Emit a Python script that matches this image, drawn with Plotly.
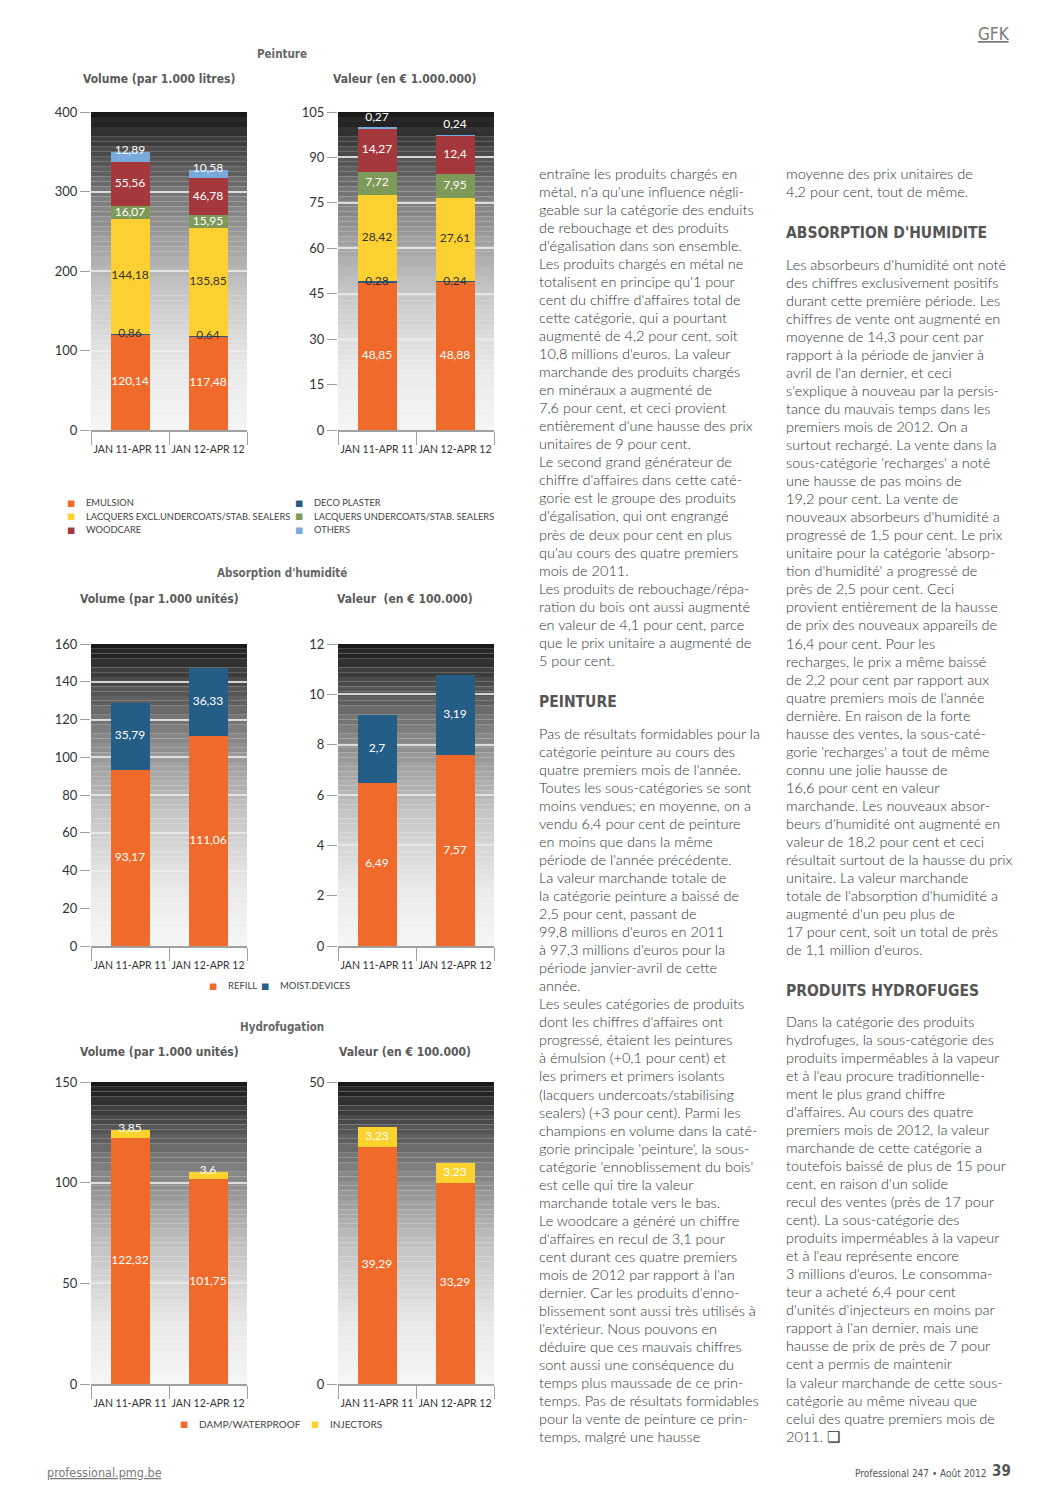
import plotly.graph_objects as go

W, H = 1058, 1496

# ---------------- DATA ----------------
periods = ["JAN 11-APR 11", "JAN 12-APR 12"]

paint_series = ["EMULSION", "DECO PLASTER", "LACQUERS EXCL.UNDERCOATS/STAB. SEALERS",
                "LACQUERS UNDERCOATS/STAB. SEALERS", "WOODCARE", "OTHERS"]
paint_volume = [[120.14, 117.48], [0.86, 0.64], [144.18, 135.85],
                [16.07, 15.95], [55.56, 46.78], [12.89, 10.58]]
paint_value = [[48.85, 48.88], [0.28, 0.24], [28.42, 27.61],
               [7.72, 7.95], [14.27, 12.4], [0.27, 0.24]]

absorption_series = ["REFILL", "MOIST.DEVICES"]
absorption_volume = [[93.17, 111.06], [35.79, 36.33]]
absorption_value = [[6.49, 7.57], [2.7, 3.19]]

hydro_series = ["DAMP/WATERPROOF", "INJECTORS"]
hydro_volume = [[122.32, 101.75], [3.85, 3.6]]
hydro_value = [[39.29, 33.29], [3.23, 3.23]]

# ---------------- STYLE ----------------
ORANGE = "#ef6a2b"
paint_colors = [ORANGE, "#2b5a84", "#fcd031", "#7d9a58", "#a5383d", "#7aaadc"]
paint_label_colors = ["#ffffff", "#333333", "#333333", "#ffffff", "#ffffff", "#ffffff"]
absorption_colors = [ORANGE, "#245d86"]
absorption_label_colors = ["#ffffff", "#ffffff"]
hydro_colors = [ORANGE, "#fcd22e"]
hydro_label_colors = ["#ffffff", "#ffffff"]

NUM_FONT = "Lato, 'Open Sans', sans-serif"
COND_FONT = "'Liberation Sans Narrow', 'DejaVu Sans Condensed', Roboto, sans-serif"

# the page shows the figure with an 8px body margin; compensate
OFF = 8

def px(x, y):
    return (x - OFF) / W, 1 - (y - OFF) / H

charts = [
    # (values, colors, label colors, ymax, dtick, x0, x1, ytop, ybottom)
    (paint_volume, paint_colors, paint_label_colors, 400, 100, 91, 247, 112, 430),
    (paint_value, paint_colors, paint_label_colors, 105, 15, 338, 494, 112, 430),
    (absorption_volume, absorption_colors, absorption_label_colors, 160, 20, 91, 247, 644, 946),
    (absorption_value, absorption_colors, absorption_label_colors, 12, 2, 338, 494, 644, 946),
    (hydro_volume, hydro_colors, hydro_label_colors, 150, 50, 91, 247, 1082, 1384),
    (hydro_value, hydro_colors, hydro_label_colors, 50, 50, 338, 494, 1082, 1384),
]

fig = go.Figure()
shapes = []

def gray(t):
    stops = [(0.0, 246), (0.2, 233), (0.45, 196), (0.6, 160), (0.75, 118),
             (0.88, 74), (0.96, 40), (1.0, 28)]
    for (t0, g0), (t1, g1) in zip(stops[:-1], stops[1:]):
        if t0 <= t <= t1:
            return g0 + (g1 - g0) * (t - t0) / (t1 - t0)
    return stops[-1][1]

def fmt(v):
    return f"{v:g}".replace(".", ",")

for k, (vals, cols, lcols, ymax, dtick, x0, x1, yt, yb) in enumerate(charts):
    idx = "" if k == 0 else str(k + 1)
    xa, ya = "x" + idx, "y" + idx
    plot_px = yb - yt
    for s, v in enumerate(vals):
        fig.add_trace(go.Bar(x=periods, y=v, marker=dict(color=cols[s], line=dict(width=0)),
                             xaxis=xa, yaxis=ya, showlegend=False, hoverinfo="skip"))
    lx, ly, lt, lc = [], [], [], []
    for i in range(len(periods)):
        base = 0.0
        for s, v in enumerate(vals):
            val = v[i]
            top = base + val
            seg = val / ymax * plot_px
            last = s == len(vals) - 1
            if seg >= 14:
                y = base + val / 2
                c = lcols[s]
            elif last and seg < 3:
                y = top + 10 / plot_px * ymax
                c = "#ffffff"
            elif last:
                y = top + 1 / plot_px * ymax
                c = lcols[s]
            else:
                y = base + val / 2
                c = lcols[s]
            lx.append(periods[i]); ly.append(y); lt.append(fmt(val)); lc.append(c)
            base = top
    fig.add_trace(go.Scatter(x=lx, y=ly, text=lt, mode="text",
                             textfont=dict(family=NUM_FONT, size=12, color=lc),
                             xaxis=xa, yaxis=ya, showlegend=False, hoverinfo="skip",
                             cliponaxis=False))
    dx0, _ = px(x0, 0)
    dx1, _ = px(x1, 0)
    _, dy1 = px(0, yt)
    _, dy0 = px(0, yb)
    fig.update_layout(**{
        ("xaxis" + idx): dict(domain=[dx0, dx1], anchor=ya, type="category",
                              automargin=False, tickangle=0, ticklabelstandoff=9,
                              showline=True, linecolor="#a0a0a0", linewidth=1.5,
                              ticks="outside", tickson="boundaries", ticklen=13,
                              tickcolor="#a0a0a0", tickwidth=1.2,
                              tickfont=dict(family=NUM_FONT, size=10.5, color="#333333"),
                              showgrid=False, fixedrange=True),
        ("yaxis" + idx): dict(domain=[dy0, dy1], anchor=xa, range=[0, ymax], dtick=dtick,
                              automargin=False,
                              tick0=0, ticks="outside", ticklen=10, tickcolor="#a0a0a0",
                              tickwidth=1.2, showline=False, zeroline=False,
                              showgrid=True, gridcolor="rgba(235,235,235,0.85)", gridwidth=1.5,
                              tickfont=dict(family=NUM_FONT, size=13, color="#333333"),
                              fixedrange=True),
    })
    n = 64
    for j in range(n):
        t = (j + 0.5) / n
        g = gray(t)
        if t > 0.35:
            g += (5 if j % 2 == 0 else -5) * (t - 0.35) / 0.65
        g = int(max(0, min(255, g)))
        shapes.append(dict(type="rect", xref=xa + " domain", yref=ya + " domain",
                           x0=0, x1=1, y0=j / n, y1=(j + 1) / n, layer="below",
                           line=dict(width=0), fillcolor=f"rgb({g},{g},{g})"))

fig.update_layout(barmode="stack", bargap=0.5, shapes=shapes)

annotations = []

def ann(x, y, text, size, color, family, xanchor="center", weight=None, yanchor="middle"):
    ax, ay = px(x, y)
    f = dict(family=family, size=size, color=color)
    if weight:
        f["weight"] = weight
    annotations.append(dict(x=ax, y=ay, xref="paper", yref="paper", text=text,
                            showarrow=False, xanchor=xanchor, yanchor=yanchor, font=f))

# chart titles
TITLE_C = "#5a5a5a"
ann(282, 54, "<b>Peinture</b>", 11.5, "#666666", COND_FONT)
ann(159, 79, "<b>Volume (par 1.000 litres)</b>", 12, TITLE_C, COND_FONT)
ann(405, 79, "<b>Valeur (en € 1.000.000)</b>", 12, TITLE_C, COND_FONT)
ann(282, 573, "<b>Absorption d'humidité</b>", 11.5, "#666666", COND_FONT)
ann(159, 599, "<b>Volume (par 1.000 unités)</b>", 12, TITLE_C, COND_FONT)
ann(405, 599, "<b>Valeur  (en € 100.000)</b>", 12, TITLE_C, COND_FONT)
ann(282, 1027, "<b>Hydrofugation</b>", 11.5, "#666666", COND_FONT)
ann(159, 1052, "<b>Volume (par 1.000 unités)</b>", 12, TITLE_C, COND_FONT)
ann(405, 1052, "<b>Valeur (en € 100.000)</b>", 12, TITLE_C, COND_FONT)

# legends
LEG_C = "#444444"
col_order = [0, 2, 4, 1, 3, 5]
for pos, s in zip([(71, 503), (71, 516), (71, 530), (299, 503), (299, 516), (299, 530)], col_order):
    ann(pos[0], pos[1], "■", 8.5, paint_colors[s], "DejaVu Sans")
    ann(pos[0] + 13, pos[1], paint_series[s], 9.3, LEG_C, NUM_FONT, xanchor="left")

for (sx, tx), s in zip([(213, 226), (265, 278)], range(2)):
    ann(sx, 986, "■", 8.5, absorption_colors[s], "DejaVu Sans")
    ann(tx, 986, absorption_series[s], 9.5, LEG_C, NUM_FONT, xanchor="left")
for (sx, tx), s in zip([(184, 197), (315, 328)], range(2)):
    ann(sx, 1424, "■", 8.5, hydro_colors[s], "DejaVu Sans")
    ann(tx, 1424, hydro_series[s], 10, LEG_C, NUM_FONT, xanchor="left")

# header / footer
ann(994, 34, "<u>GFK</u>", 17, "#7a7a7a", COND_FONT)
ann(45, 1472, "<u>professional.pmg.be</u>", 12.5, "#7a7a7a", COND_FONT, xanchor="left")
ann(989, 1473, "Professional 247 • Août 2012", 10, "#555555", COND_FONT, xanchor="right")
ann(1013, 1471, "<b>39</b>", 15, "#555555", COND_FONT, xanchor="right")

# article text
left_block1 = [
    "entraîne les produits chargés en",
    "métal, n'a qu'une influence négli-",
    "geable sur la catégorie des enduits",
    "de rebouchage et des produits",
    "d'égalisation dans son ensemble.",
    "Les produits chargés en métal ne",
    "totalisent en principe qu'1 pour",
    "cent du chiffre d'affaires total de",
    "cette catégorie, qui a pourtant",
    "augmenté de 4,2 pour cent, soit",
    "10,8 millions d'euros. La valeur",
    "marchande des produits chargés",
    "en minéraux a augmenté de",
    "7,6 pour cent, et ceci provient",
    "entièrement d'une hausse des prix",
    "unitaires de 9 pour cent.",
    "Le second grand générateur de",
    "chiffre d'affaires dans cette caté-",
    "gorie est le groupe des produits",
    "d'égalisation, qui ont engrangé",
    "près de deux pour cent en plus",
    "qu'au cours des quatre premiers",
    "mois de 2011.",
    "Les produits de rebouchage/répa-",
    "ration du bois ont aussi augmenté",
    "en valeur de 4,1 pour cent, parce",
    "que le prix unitaire a augmenté de",
    "5 pour cent.",
]
left_block2 = [
    "Pas de résultats formidables pour la",
    "catégorie peinture au cours des",
    "quatre premiers mois de l'année.",
    "Toutes les sous-catégories se sont",
    "moins vendues; en moyenne, on a",
    "vendu 6,4 pour cent de peinture",
    "en moins que dans la même",
    "période de l'année précédente.",
    "La valeur marchande totale de",
    "la catégorie peinture a baissé de",
    "2,5 pour cent, passant de",
    "99,8 millions d'euros en 2011",
    "à 97,3 millions d'euros pour la",
    "période janvier-avril de cette",
    "année.",
    "Les seules catégories de produits",
    "dont les chiffres d'affaires ont",
    "progressé, étaient les peintures",
    "à émulsion (+0,1 pour cent) et",
    "les primers et primers isolants",
    "(lacquers undercoats/stabilising",
    "sealers) (+3 pour cent). Parmi les",
    "champions en volume dans la caté-",
    "gorie principale 'peinture', la sous-",
    "catégorie 'ennoblissement du bois'",
    "est celle qui tire la valeur",
    "marchande totale vers le bas.",
    "Le woodcare a généré un chiffre",
    "d'affaires en recul de 3,1 pour",
    "cent durant ces quatre premiers",
    "mois de 2012 par rapport à l'an",
    "dernier. Car les produits d'enno-",
    "blissement sont aussi très utilisés à",
    "l'extérieur. Nous pouvons en",
    "déduire que ces mauvais chiffres",
    "sont aussi une conséquence du",
    "temps plus maussade de ce prin-",
    "temps. Pas de résultats formidables",
    "pour la vente de peinture ce prin-",
    "temps, malgré une hausse",
]
right_block1 = [
    "moyenne des prix unitaires de",
    "4,2 pour cent, tout de même.",
]
right_block2 = [
    "Les absorbeurs d'humidité ont noté",
    "des chiffres exclusivement positifs",
    "durant cette première période. Les",
    "chiffres de vente ont augmenté en",
    "moyenne de 14,3 pour cent par",
    "rapport à la période de janvier à",
    "avril de l'an dernier, et ceci",
    "s'explique à nouveau par la persis-",
    "tance du mauvais temps dans les",
    "premiers mois de 2012. On a",
    "surtout rechargé. La vente dans la",
    "sous-catégorie 'recharges' a noté",
    "une hausse de pas moins de",
    "19,2 pour cent. La vente de",
    "nouveaux absorbeurs d'humidité a",
    "progressé de 1,5 pour cent. Le prix",
    "unitaire pour la catégorie 'absorp-",
    "tion d'humidité' a progressé de",
    "près de 2,5 pour cent. Ceci",
    "provient entièrement de la hausse",
    "de prix des nouveaux appareils de",
    "16,4 pour cent. Pour les",
    "recharges, le prix a même baissé",
    "de 2,2 pour cent par rapport aux",
    "quatre premiers mois de l'année",
    "dernière. En raison de la forte",
    "hausse des ventes, la sous-caté-",
    "gorie 'recharges' a tout de même",
    "connu une jolie hausse de",
    "16,6 pour cent en valeur",
    "marchande. Les nouveaux absor-",
    "beurs d'humidité ont augmenté en",
    "valeur de 18,2 pour cent et ceci",
    "résultait surtout de la hausse du prix",
    "unitaire. La valeur marchande",
    "totale de l'absorption d'humidité a",
    "augmenté d'un peu plus de",
    "17 pour cent, soit un total de près",
    "de 1,1 million d'euros.",
]
right_block3 = [
    "Dans la catégorie des produits",
    "hydrofuges, la sous-catégorie des",
    "produits imperméables à la vapeur",
    "et à l'eau procure traditionnelle-",
    "ment le plus grand chiffre",
    "d'affaires. Au cours des quatre",
    "premiers mois de 2012, la valeur",
    "marchande de cette catégorie a",
    "toutefois baissé de plus de 15 pour",
    "cent, en raison d'un solide",
    "recul des ventes (près de 17 pour",
    "cent). La sous-catégorie des",
    "produits imperméables à la vapeur",
    "et à l'eau représente encore",
    "3 millions d'euros. Le consomma-",
    "teur a acheté 6,4 pour cent",
    "d'unités d'injecteurs en moins par",
    "rapport à l'an dernier, mais une",
    "hausse de prix de près de 7 pour",
    "cent a permis de maintenir",
    "la valeur marchande de cette sous-",
    "catégorie au même niveau que",
    "celui des quatre premiers mois de",
    "2011. ❑",
]

BODY_FONT = "Lato, 'Open Sans', sans-serif"
BODY_C = "#333333"
PITCH = 18.05

def block(x, y0, lines):
    for i, line in enumerate(lines):
        ann(x, y0 + i * PITCH, line, 14.5, BODY_C, BODY_FONT, xanchor="left", weight=300)

HEAD_C = "#555555"
block(537, 173, left_block1)
ann(537, 702, "<b>PEINTURE</b>", 15.5, HEAD_C, COND_FONT, xanchor="left")
block(537, 733, left_block2)
block(784, 173, right_block1)
ann(784, 233, "<b>ABSORPTION D'HUMIDITE</b>", 15.5, HEAD_C, COND_FONT, xanchor="left")
block(784, 264, right_block2)
ann(784, 991, "<b>PRODUITS HYDROFUGES</b>", 15.5, HEAD_C, COND_FONT, xanchor="left")
block(784, 1021, right_block3)

fig.update_layout(
    width=W, height=H, margin=dict(l=0, r=0, t=0, b=0, pad=0, autoexpand=False),
    paper_bgcolor="#ffffff", plot_bgcolor="rgba(0,0,0,0)",
    annotations=annotations, showlegend=False,
    font=dict(family=NUM_FONT, color="#333333"),
)

fig.write_html("out.html")
